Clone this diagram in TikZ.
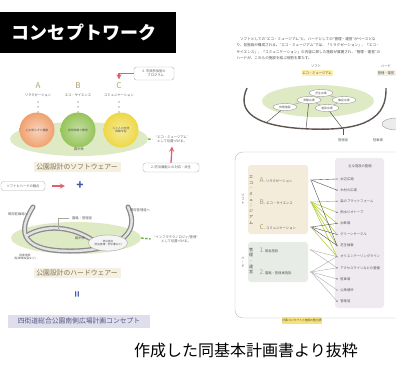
\documentclass[tikz,border=0pt]{standalone}
\usepackage{fontspec}
\setmainfont{Noto Sans CJK JP}
\usetikzlibrary{arrows,positioning,calc,shapes.geometric}

\definecolor{abcolive}{RGB}{176,160,110}
\definecolor{softgreen}{RGB}{222,234,196}
\definecolor{circorange}{RGB}{240,160,110}
\definecolor{circgreen}{RGB}{150,196,90}
\definecolor{circyellow}{RGB}{238,216,70}
\definecolor{labelbeige}{RGB}{244,240,226}
\definecolor{labeltext}{RGB}{130,112,80}
\definecolor{conceptlav}{RGB}{222,222,236}
\definecolor{concepttext}{RGB}{90,90,130}
\definecolor{arrowred}{RGB}{224,96,110}
\definecolor{plusblue}{RGB}{60,90,170}
\definecolor{dashgreen}{RGB}{110,176,60}
\definecolor{tubegray}{RGB}{140,140,140}
\definecolor{tablebeige}{RGB}{243,236,218}
\definecolor{tablegray}{RGB}{232,236,230}
\definecolor{tablelav}{RGB}{238,234,240}
\definecolor{tagyellow}{RGB}{248,226,120}
\definecolor{linegreen}{RGB}{180,210,60}
\definecolor{arcbrown}{RGB}{95,85,80}

\begin{document}
\begin{tikzpicture}[x=1pt,y=-1pt,>=stealth,
	tinytxt/.style={font=\fontsize{3.3}{4}\selectfont, text=black!65},
	softbox/.style={draw=gray!60, fill=white, rounded corners=2.5pt, tinytxt, inner sep=0pt},
	labelbox/.style={fill=labelbeige, text=labeltext, font=\fontsize{6.8}{8}\selectfont, minimum width=87, minimum height=10, inner sep=0pt},
	conceptbox/.style={fill=conceptlav, text=concepttext, font=\fontsize{6.8}{8}\selectfont, minimum width=142, minimum height=13, inner sep=0pt},
	abc/.style={text=abcolive, font=\fontsize{8}{8}\selectfont},
	ball/.style={circle, minimum size=35, inner sep=0pt, align=center, font=\fontsize{2.8}{3.4}\selectfont, text=black!70},
	redarrow/.style={draw=arrowred, line width=1.3pt, ->},
	gdash/.style={draw=dashgreen, line width=1.4pt, dash pattern=on 2.5pt off 1.5pt},
	tube/.style={draw=tubegray, line width=5pt, line cap=round},
	tubecore/.style={draw=gray!22, line width=2.4pt, line cap=round},
	facil/.style={ellipse, draw=gray!80, fill=white, font=\fontsize{2.8}{3}\selectfont, text=black!70, minimum width=24, minimum height=7, inner sep=0pt},
	dotpt/.style={circle, fill=black!70, inner sep=0pt, minimum size=1.4},
	tag/.style={font=\fontsize{3.3}{4}\selectfont, text=black!70, minimum width=31, minimum height=6, inner sep=0pt},
	tate/.style={align=center, font=\fontsize{4}{5.7}\selectfont, text=black!70},
	blk/.style={draw=black!75, line width=0.35pt},
	grn/.style={draw=linegreen, line width=0.6pt},
	gry/.style={draw=gray!70, line width=0.35pt}]
	\useasboundingbox (0,0) rectangle (396,365);

	\begin{scope}[xshift = 0cm]
		\fill [black] (0,12) rectangle (176,53);
		\node (title) at (84,32.5) [text=white, font=\fontsize{18}{20}\selectfont\bfseries] {コンセプトワーク};

		\node (prog) at (154,73.5) [softbox, minimum width=40, minimum height=13, align=center] {3. 市民参加型の\\\quad プログラム};

		\node (A) at (38,86) [abc] {A};
		\node (B) at (78,86) [abc] {B};
		\node (C) at (119,86) [abc] {C};
		\node (Al) at (38,95) [tinytxt] {リラクゼーション};
		\node (Bl) at (78,95) [tinytxt] {エコ・サイエンス};
		\node (Cl) at (119,95) [tinytxt] {コミュニケーション};
		\draw [redarrow] (prog.west) -| (C.north);
		\foreach \x in {38,78,119}
			\foreach \y in {102,107,112}
				\fill [black!70] (\x,\y) circle (0.6);

		\node (soft) at (79,139) [ellipse, fill=softgreen, minimum width=138, minimum height=34] {};
		\node (cA) at (37,130) [ball, shading=radial, inner color=circorange!45, outer color=circorange] {心の安らぎと健康};
		\node (cB) at (78,130) [ball, shading=radial, inner color=circgreen!55, outer color=circgreen] {自然体験と教育};
		\node (cC) at (121,130) [ball, shading=radial, inner color=circyellow!55, outer color=circyellow] {人と人の交流\\体験学習};
		\node (zoki1) at (79,149) [tinytxt] {雑木林};

		\node (ecom) at (172,139.5) [tinytxt, align=center] {“エコ・ミュージアム”\\として位置づける。};
		\draw [gdash] (soft.east) -- (ecom.west);
		\node (softlbl) at (77,167) [labelbox] {公園設計のソフトウェアー};
		\node (bousai) at (171,167.5) [softbox, minimum width=56, minimum height=9] {2. 防災機能との対応・共生};
		\draw [redarrow] (bousai.north) -- (ecom.south);

		\node (fusion) at (23,186) [softbox, minimum width=44, minimum height=9] {ソフトとハードの融合};
		\coordinate (r1) at (52,186);
		\coordinate (r2) at (65,186);
		\draw [redarrow] (r1) -- (r2);
		\node (plus) at (80,186) [text=plusblue, font=\fontsize{12}{12}\selectfont\bfseries] {+};

		\node (hard) at (76,238) [ellipse, fill=softgreen, minimum width=130, minimum height=32] {};
		\draw [tube] (33,207) .. controls (15,235) and (25,251) .. (70,251) .. controls (115,251) and (142,235) .. (128,207);
		\draw [tube] (26,236) .. controls (45,224) and (72,226) .. (94,241);
		\draw [tubecore] (33,207) .. controls (15,235) and (25,251) .. (70,251) .. controls (115,251) and (142,235) .. (128,207);
		\draw [tubecore] (26,236) .. controls (45,224) and (72,226) .. (94,241);
		\node (enro) at (82,218) [tinytxt] {園路・管理道};
		\coordinate (lead) at (58,229);
		\draw [gray!70, line width=0.3pt] (enro.west) -| (lead);
		\node (zoki2) at (80,238) [tinytxt] {雑木林};
		\node (kison1) at (18,214) [tinytxt] {既存駐輪場へ};
		\node (kison2) at (140,210) [tinytxt] {既存管理道へ};
		\node (kyoten) at (108,243) [ellipse, draw=gray!70, fill=gray!8, minimum width=34, minimum height=16, inner sep=0pt, align=center, font=\fontsize{2.6}{3.2}\selectfont, text=black!70] {防災拠点\\(防災倉庫・貯水槽など)};
		\node (chusha) at (25,257) [tinytxt, align=center, font=\fontsize{2.8}{3.4}\selectfont] {駐車施設\\(駐車場拡張など)};
		\node (infra) at (176,239) [tinytxt, align=center] {“インフラテクノロジィ/管理”\\として位置づける。};
		\draw [gdash] (hard.east) -- (infra.west);

		\node (hardlbl) at (77,273) [labelbox] {公園設計のハードウェアー};
		\node (eq) at (78,294) [text=plusblue, font=\fontsize{10}{10}\selectfont\bfseries, rotate=90] {=};
		\node (concept) at (79,321) [conceptbox] {四街道総合公園南側広場計画コンセプト};
	\end{scope}

	\node (caption) at (246,350) [font=\fontsize{16}{18}\selectfont] {作成した同基本計画書より抜粋};

	\begin{scope}[xshift = 0cm]
		\node (para) at (233,34) [anchor=north west, align=left, font=\fontsize{3.6}{6.3}\selectfont, text=black!70] {\quad ソフトとしての“エコ・ミュージアム”と、ハードとしての“管理・運営”がベースとな\\り、各施設が構成される。“エコ・ミュージアム”では、「リラクゼーション」、「エコ・\\サイエンス」、「コミュニケーション」の内容に即した施設が展開され、“管理・運営”の\\ハードが、これらの施設を結ぶ役割を果たす。};

		\node (softtag) at (316,66) [tinytxt] {ソフト};
		\node (ecotag) at (317,73) [tag, fill=tagyellow!60] {エコ・ミュージアム};
		\node (hardtag) at (386,66) [tinytxt] {ハード};
		\node (kanritag) at (386,73) [tag, fill=labelbeige, minimum width=19] {管理・運営};

		\node (ecofield) at (318,101) [ellipse, fill=softgreen, minimum width=112, minimum height=32] {};
		\draw [draw=arcbrown, line width=1.4pt] (247,88) .. controls (236,112) and (255,127) .. (310,129) .. controls (365,131) and (387,118) .. (386,88);
		\node (gray1) at (396,124) [ellipse, draw=gray!80, fill=gray!15, minimum width=28, minimum height=12] {};

		\coordinate (a1) at (266,123);
		\coordinate (a2) at (306,129);
		\coordinate (a3) at (343,129);
		\node (f1) at (321,93) [facil] {芝生広場};
		\node (f2) at (309,100) [facil] {実験広場};
		\node (f3) at (344,100) [facil] {集会広場};
		\node (f4) at (327,108) [facil] {遊具広場};
		\node (f5) at (285,107) [facil] {休憩施設};
		\draw [gray!80, line width=0.35pt] (f1) edge (f2) (f1) edge (f3) (f2) edge (f4) (f3) edge (f4) (f2) edge (f5);
		\draw [arcbrown, line width=0.5pt] (f5) edge (a1) (f2) edge (a2) (f4) edge (a3);
		\node (kanrido) at (343,140) [tinytxt] {管理道};
		\node (chushajo) at (378,140) [tinytxt] {駐車場};
		\draw [arcbrown, line width=0.4pt] (a3) -- (kanrido.north);

		\draw [rounded corners=8pt, draw=gray!55, fill=white] (235,152) rectangle (412,318);
		\fill [tablebeige, rounded corners=3pt] (248,165) rectangle (308,234);
		\fill [tablegray, rounded corners=3pt] (248,242) rectangle (308,282);
		\fill [tablelav, rounded corners=3pt] (335,158) rectangle (384,308);

		\node (ecov) at (251,200) [tate] {エ\\コ\\・\\ミ\\ュ\\｜\\ジ\\ア\\ム};
		\node (softv) at (243,199) [tate, font=\fontsize{3.3}{4}\selectfont] {ソ\\フ\\ト};
		\node (kanriv) at (251,261) [tate] {管\\理\\・\\運\\営};
		\node (hardv) at (243,262) [tate, font=\fontsize{3.3}{4}\selectfont] {ハ\\｜\\ド};

		\node (iA) at (256,180) [anchor=west, tinytxt] {\textcolor{abcolive}{\fontsize{6.5}{6.5}\selectfont A.}\ リラクゼーション};
		\node (iB) at (256,202) [anchor=west, tinytxt] {\textcolor{abcolive}{\fontsize{6.5}{6.5}\selectfont B.}\ エコ・サイエンス};
		\node (iC) at (256,227) [anchor=west, tinytxt] {\textcolor{abcolive}{\fontsize{6.5}{6.5}\selectfont C.}\ コミュニケーション};
		\node (i1) at (256,250) [anchor=west, tinytxt] {\textcolor{abcolive}{\fontsize{6.5}{6.5}\selectfont 1}. 緊急施設};
		\node (i2) at (256,272) [anchor=west, tinytxt] {\textcolor{abcolive}{\fontsize{6.5}{6.5}\selectfont 2}. 園路・管理車施設};
		\node (pA) at (311,180) [dotpt] {};
		\node (pB) at (311,202) [dotpt] {};
		\node (pC) at (311,227) [dotpt] {};
		\node (p1) at (311,250) [dotpt] {};
		\node (p2) at (311,272) [dotpt] {};

		\node (fhead) at (360,166) [tinytxt] {主な施設の整備};
		\foreach \name [count=\i] in {水辺広場,木材の広場,森のプラットフォーム,雨水ビオトープ,水飲場,グリーンサークル,芝生植栽,オリエンテーリングライン,アクセスラインなどの整備,駐車場,公衆便所,管理道}
			\node (r\i) at (337,{179+11.1*(\i-1)}) [dotpt, label={[tinytxt, anchor=west, xshift=-1pt]right:\name}] {};

		\draw [grn] (pB) edge (r3) (pB) edge (r4) (pB) edge (r5) (pB) edge (r6) (pB) edge (r7) (pB) edge (r8) (pC) edge (r8);
		\draw [blk] (pA) edge (r1) (pA) edge (r2) (pA) edge (r7) (pC) edge (r5) (pC) edge (r6) (pC) edge (r7);
		\draw [gry] (p1) edge (r8) (p1) edge (r9) (p2) edge (r8) (p2) edge (r9) (p2) edge (r10) (p2) edge (r11) (p2) edge (r12);

		\node (seigo) at (302,320) [tag, fill=tagyellow, minimum width=40, minimum height=7, font=\fontsize{2.8}{3}\selectfont] {計画コンセプトと施設の整合表};
	\end{scope}
\end{tikzpicture}
\end{document}
